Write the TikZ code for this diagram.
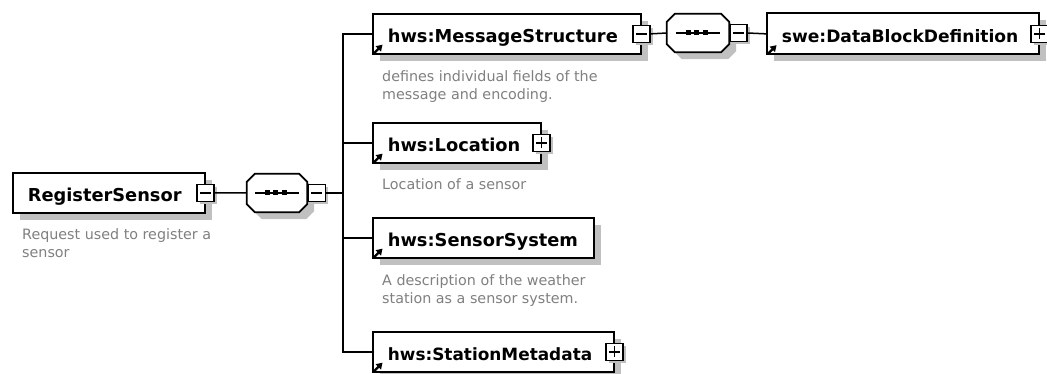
\documentclass[tikz,border=0pt]{standalone}
\usepackage{fontspec}
\setmainfont{DejaVu Sans}
\usetikzlibrary{shadows,calc}

\definecolor{descgray}{RGB}{128,128,128}
\definecolor{shadowgray}{RGB}{192,192,192}

% outline of a sequence compositor around node #1, shifted by #2 in x and y
\newcommand\compositorpath[2]{%
  ([shift={(#2+8,#2)}]#1.north west) -- ([shift={(#2-8,#2)}]#1.north east)
  -- ([shift={(#2,#2+8)}]#1.north east) -- ([shift={(#2,#2-8)}]#1.south east)
  -- ([shift={(#2-8,#2)}]#1.south east) -- ([shift={(#2+8,#2)}]#1.south west)
  -- ([shift={(#2,#2-8)}]#1.south west) -- ([shift={(#2,#2+8)}]#1.north west)
  -- cycle}

% shadow, outline and the dotted line symbol of a sequence compositor
\newcommand\drawcompositor[1]{%
  \fill[shadowgray] \compositorpath{#1}{7};
  \filldraw[fill=white, draw=black, line width=1.7pt] \compositorpath{#1}{0};
  \draw[line width=1.5pt] ([xshift=-22pt]#1.center) -- ([xshift=22pt]#1.center);
  \foreach \d in {-10,-2,7}
    \fill ([shift={(\d-2.5,-2.5)}]#1.center) rectangle ++(5,5);}

% small up-right arrow in the lower left corner of a referenced element
\newcommand\refmark[1]{%
  \draw[line width=2.2pt] ([shift={(2,-1.5)}]#1.south west) -- ([shift={(6.5,-6)}]#1.south west);
  \fill ([shift={(10.5,-10)}]#1.south west) -- ([shift={(3.5,-8.5)}]#1.south west)
    -- ([shift={(9,-3)}]#1.south west) -- cycle;}

\begin{document}
\begin{tikzpicture}[x=1pt,y=-1pt,
  elem/.style={draw=black, line width=1.7pt, fill=white, rectangle,
    align=left, inner xsep=15pt, inner ysep=0pt, minimum height=40pt,
    text height=16.5pt, text depth=0pt, anchor=north west,
    font=\fontsize{17.8}{20}\selectfont\bfseries,
    general shadow={fill=shadowgray, shadow xshift=7pt, shadow yshift=-7pt}},
  bw/.style={text width=#1},
  fs/.style={font=\fontsize{#1}{20}\selectfont\bfseries},
  sqbase/.style={draw=black, fill=white, line width=1.5pt, minimum size=17pt,
    inner sep=0pt, anchor=center,
    general shadow={fill=shadowgray, shadow xshift=3pt, shadow yshift=-3pt}},
  collapse/.style={sqbase, path picture={
    \draw[line width=1.5pt] ([xshift=3pt]path picture bounding box.west)
      -- ([xshift=-3pt]path picture bounding box.east);}},
  expand/.style={sqbase, path picture={
    \draw[line width=1.5pt] ([xshift=3pt]path picture bounding box.west)
      -- ([xshift=-3pt]path picture bounding box.east);
    \draw[line width=1.5pt] ([yshift=-3pt]path picture bounding box.north)
      -- ([yshift=3pt]path picture bounding box.south);}},
  seqbox/.style={rectangle, draw=none, minimum width=60pt, minimum height=38pt,
    inner sep=0pt},
  conn/.style={draw=black, line width=1.5pt},
  desc/.style={font=\fontsize{14.3}{18}\selectfont, text=descgray,
    align=left, inner sep=0pt, anchor=base west}
]
\fill[white] (0,0) rectangle (1047,374);
\useasboundingbox (0,0) rectangle (1047,374);

% root element and its sequence compositor
\node[elem, bw=162pt] (rs) at (12,172) {RegisterSensor};
\node[collapse] (rssq) at (rs.east) {};
\node[seqbox] (c1) at (277,193) {};
\drawcompositor{c1}
\node[collapse, anchor=west] (c1sq) at ([xshift=0.5pt]c1.east) {};
\coordinate (bus) at (343,193);
\node[desc] (rsd) at (22,258) {Request used to register a\\sensor};

% child elements of the sequence
\node[elem, bw=238pt] (msg) at (372,13) {hws:MessageStructure};
\node[collapse] (msgsq) at (msg.east) {};
\node[desc] (msgd) at (382,100) {defines individual fields of the\\message and encoding.};

\node[elem, bw=138pt] (loc) at (372,122) {hws:Location};
\node[expand] (locsq) at (loc.east) {};
\node[desc] (locd) at (382,190) {Location of a sensor};

\node[elem, bw=191pt] (sys) at (372,217) {hws:SensorSystem};
\node[desc] (sysd) at (382,303) {A description of the weather\\station as a sensor system.};

\node[elem, bw=211pt, fs=16.9] (meta) at (372,331) {hws:StationMetadata};
\node[expand] (metasq) at (meta.east) {};

% nested sequence under MessageStructure
\node[seqbox, minimum width=62pt] (c2) at (698,33) {};
\drawcompositor{c2}
\node[collapse, anchor=west] (c2sq) at (c2.east) {};
\node[elem, bw=242pt, minimum height=41pt, fs=17.1] (dbd) at (766,12.5) {swe:DataBlockDefinition};
\node[expand] (dbdsq) at (dbd.east) {};

% connectors
\draw[conn] (rssq.east) -- (c1.west);
\draw[conn] (c1sq.east) -- (bus);
\draw[conn] (bus) |- (msg.west);
\draw[conn] (bus) |- (loc.west);
\draw[conn] (bus) |- (sys.west);
\draw[conn] (bus) |- (meta.west);
\draw[conn] (msgsq.east) -- (c2.west);
\draw[conn] (c2sq.east) -- (dbd.west);

% reference marks on referenced elements
\refmark{msg}
\refmark{loc}
\refmark{sys}
\refmark{meta}
\refmark{dbd}
\end{tikzpicture}
\end{document}
